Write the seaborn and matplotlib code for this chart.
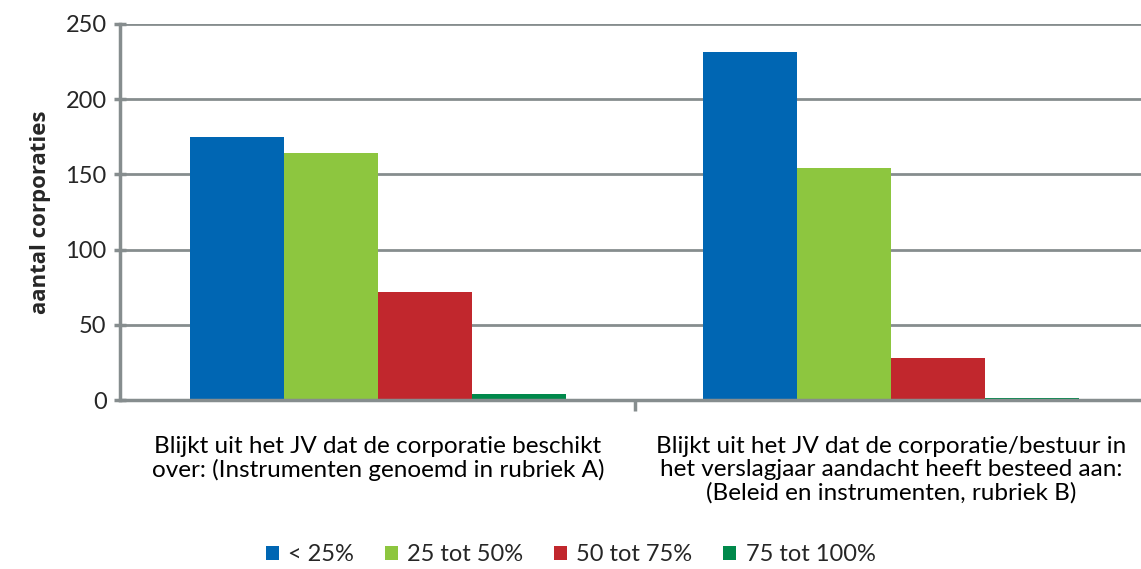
import pandas as pd
import matplotlib.pyplot as plt
import seaborn as sns

# data
categories = ['Blijkt uit het JV dat de corporatie beschikt\nover: (Instrumenten genoemd in rubriek A)',
              'Blijkt uit het JV dat de corporatie/bestuur in\nhet verslagjaar aandacht heeft besteed aan:\n(Beleid en instrumenten, rubriek B)']
series = ['< 25%', '25 tot 50%', '50 tot 75%', '75 tot 100%']
values_a = [175, 164, 72, 4]
values_b = [231, 154, 28, 1.5]
colors = ['#0066B3', '#8DC63F', '#C1272D', '#00894B']

rows = []
for cat, vals in zip(categories, [values_a, values_b]):
    for s, v in zip(series, vals):
        rows.append({'cat': cat, 'serie': s, 'aantal': v})
df = pd.DataFrame(rows)

sns.set_style('white')
plt.rcParams['font.family'] = ['Lato', 'DejaVu Sans']
grey = '#868D8E'

fig = plt.figure(figsize=(11.41, 5.69), dpi=100)
ax = fig.add_axes([0.105, 0.297, 0.895, 0.661])

sns.barplot(data=df, x='cat', y='aantal', hue='serie', palette=colors,
            width=0.733, gap=0, saturation=1, ax=ax, legend=True)
for p in ax.patches:
    p.set_edgecolor('none')

ax.set_ylim(0, 250)
ax.set_yticks(range(0, 251, 50))
ax.set_xlim(-0.503, 1.487)
ax.grid(axis='y', color=grey, linewidth=2)
ax.set_axisbelow(True)
for side in ['top', 'right']:
    ax.spines[side].set_visible(False)
for side in ['left', 'bottom']:
    ax.spines[side].set_color(grey)
    ax.spines[side].set_linewidth(2.5)

ax.set_xticks([0.5], minor=True)
ax.tick_params(axis='x', which='major', bottom=True, length=0, pad=26, labelsize=17.5, labelcolor='#000000')
ax.tick_params(axis='x', which='minor', bottom=True, length=8, width=2.5, color=grey, direction='out')
ax.tick_params(axis='y', left=True, length=9, width=2.5, color=grey, direction='inout', labelsize=17, pad=5)
for lbl in ax.get_xticklabels():
    lbl.set_linespacing(1.1)

ax.set_xlabel('')
ax.set_ylabel('aantal corporaties', fontsize=16, fontweight='bold', labelpad=10,
              family=['Open Sans', 'DejaVu Sans'])

handles, labels = ax.get_legend_handles_labels()
ax.get_legend().remove()
fig.legend(handles, labels, loc='center', bbox_to_anchor=(0.5, 0.025), ncol=4, frameon=False,
           fontsize=17, handlelength=0.55, handleheight=0.55, handletextpad=0.4, columnspacing=1.3)

fig.savefig('out.png', dpi=100)
